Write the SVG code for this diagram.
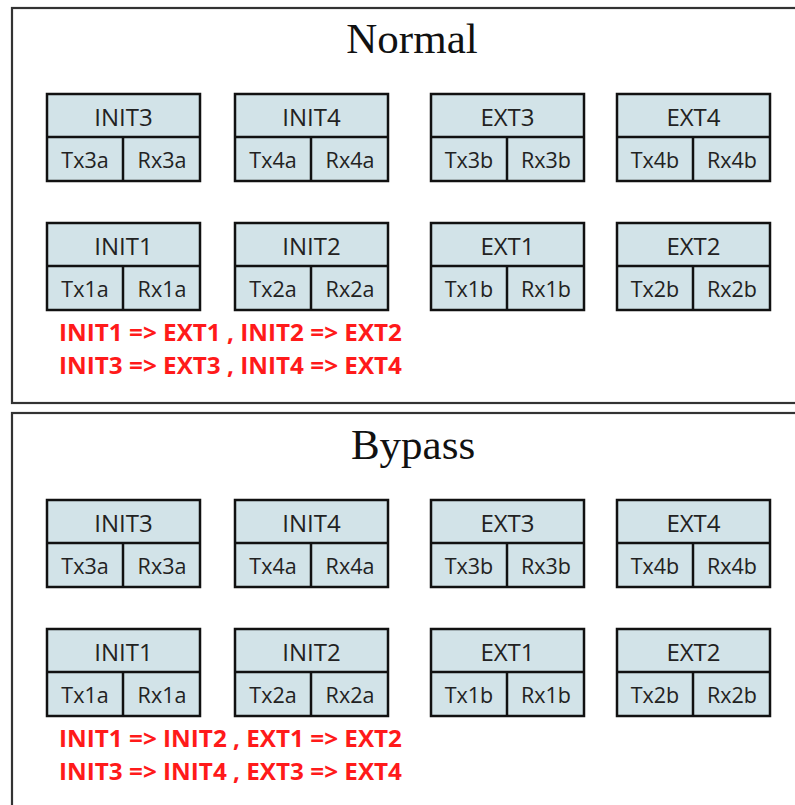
<svg xmlns="http://www.w3.org/2000/svg" width="795" height="805" viewBox="0 0 795 805">
<style>
.panel{fill:#fff;stroke:#333;stroke-width:2.2}
.cell{fill:#d2e3e8;stroke:#111;stroke-width:2.5}
.ln{stroke:#111;stroke-width:2.5}
.hd{font-family:"Open Sans","Liberation Sans",sans-serif;font-size:24px;fill:#222;text-anchor:middle}
.sb{font-family:"Open Sans","Liberation Sans",sans-serif;font-size:21.5px;fill:#222;text-anchor:middle}
.ttl{font-family:"Liberation Serif",serif;font-size:43px;fill:#111;text-anchor:middle}
.red{font-family:"Open Sans","Liberation Sans",sans-serif;font-size:22.5px;font-weight:bold;fill:#ff1a1a}
</style>
<defs>
<g id="box">
<rect class="cell" x="0" y="0" width="153" height="87"/>
<line class="ln" x1="0" y1="43" x2="153" y2="43"/>
<line class="ln" x1="76" y1="43" x2="76" y2="87"/>
</g>
</defs>
<rect class="panel" x="12" y="8" width="800" height="395"/>
<rect class="panel" x="12" y="413" width="800" height="410"/>
<text class="ttl" x="412" y="53">Normal</text>
<text class="ttl" x="413" y="459">Bypass</text>
<g id="connectors"/>
<g id="normal">
<g id="n-init3"><use href="#box" x="47" y="94"/><text class="hd" x="123.5" y="126">INIT3</text><text class="sb" x="85" y="168">Tx3a</text><text class="sb" x="162" y="168">Rx3a</text></g>
<g id="n-init4"><use href="#box" x="235" y="94"/><text class="hd" x="311.5" y="126">INIT4</text><text class="sb" x="273" y="168">Tx4a</text><text class="sb" x="350" y="168">Rx4a</text></g>
<g id="n-ext3"><use href="#box" x="431" y="94"/><text class="hd" x="507.5" y="126">EXT3</text><text class="sb" x="469" y="168">Tx3b</text><text class="sb" x="546" y="168">Rx3b</text></g>
<g id="n-ext4"><use href="#box" x="617" y="94"/><text class="hd" x="693.5" y="126">EXT4</text><text class="sb" x="655" y="168">Tx4b</text><text class="sb" x="732" y="168">Rx4b</text></g>
<g id="n-init1"><use href="#box" x="47" y="223"/><text class="hd" x="123.5" y="255">INIT1</text><text class="sb" x="85" y="297">Tx1a</text><text class="sb" x="162" y="297">Rx1a</text></g>
<g id="n-init2"><use href="#box" x="235" y="223"/><text class="hd" x="311.5" y="255">INIT2</text><text class="sb" x="273" y="297">Tx2a</text><text class="sb" x="350" y="297">Rx2a</text></g>
<g id="n-ext1"><use href="#box" x="431" y="223"/><text class="hd" x="507.5" y="255">EXT1</text><text class="sb" x="469" y="297">Tx1b</text><text class="sb" x="546" y="297">Rx1b</text></g>
<g id="n-ext2"><use href="#box" x="617" y="223"/><text class="hd" x="693.5" y="255">EXT2</text><text class="sb" x="655" y="297">Tx2b</text><text class="sb" x="732" y="297">Rx2b</text></g>
<text class="red" x="59" y="341" textLength="343" lengthAdjust="spacingAndGlyphs">INIT1 =&gt; EXT1 , INIT2 =&gt; EXT2</text>
<text class="red" x="59" y="374" textLength="343" lengthAdjust="spacingAndGlyphs">INIT3 =&gt; EXT3 , INIT4 =&gt; EXT4</text>
</g>
<g id="bypass">
<g id="b-init3"><use href="#box" x="47" y="500"/><text class="hd" x="123.5" y="532">INIT3</text><text class="sb" x="85" y="574">Tx3a</text><text class="sb" x="162" y="574">Rx3a</text></g>
<g id="b-init4"><use href="#box" x="235" y="500"/><text class="hd" x="311.5" y="532">INIT4</text><text class="sb" x="273" y="574">Tx4a</text><text class="sb" x="350" y="574">Rx4a</text></g>
<g id="b-ext3"><use href="#box" x="431" y="500"/><text class="hd" x="507.5" y="532">EXT3</text><text class="sb" x="469" y="574">Tx3b</text><text class="sb" x="546" y="574">Rx3b</text></g>
<g id="b-ext4"><use href="#box" x="617" y="500"/><text class="hd" x="693.5" y="532">EXT4</text><text class="sb" x="655" y="574">Tx4b</text><text class="sb" x="732" y="574">Rx4b</text></g>
<g id="b-init1"><use href="#box" x="47" y="629"/><text class="hd" x="123.5" y="661">INIT1</text><text class="sb" x="85" y="703">Tx1a</text><text class="sb" x="162" y="703">Rx1a</text></g>
<g id="b-init2"><use href="#box" x="235" y="629"/><text class="hd" x="311.5" y="661">INIT2</text><text class="sb" x="273" y="703">Tx2a</text><text class="sb" x="350" y="703">Rx2a</text></g>
<g id="b-ext1"><use href="#box" x="431" y="629"/><text class="hd" x="507.5" y="661">EXT1</text><text class="sb" x="469" y="703">Tx1b</text><text class="sb" x="546" y="703">Rx1b</text></g>
<g id="b-ext2"><use href="#box" x="617" y="629"/><text class="hd" x="693.5" y="661">EXT2</text><text class="sb" x="655" y="703">Tx2b</text><text class="sb" x="732" y="703">Rx2b</text></g>
<text class="red" x="59" y="747" textLength="343" lengthAdjust="spacingAndGlyphs">INIT1 =&gt; INIT2 , EXT1 =&gt; EXT2</text>
<text class="red" x="59" y="780" textLength="343" lengthAdjust="spacingAndGlyphs">INIT3 =&gt; INIT4 , EXT3 =&gt; EXT4</text>
</g>
</svg>
